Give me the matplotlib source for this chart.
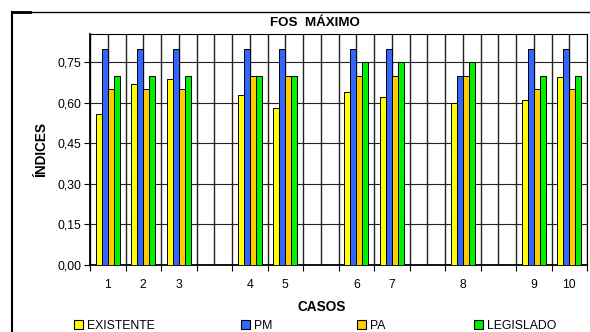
import numpy as np
import matplotlib
matplotlib.use("Agg")
import matplotlib.pyplot as plt
from matplotlib.lines import Line2D
from matplotlib.patches import Patch

plt.rcParams['font.family'] = ['Liberation Sans', 'DejaVu Sans']

# category slots (blank = empty slot in the original chart)
slots = ['1', '2', '3', '', '4', '5', '', '6', '7', '', '8', '', '9', '10']
nan = np.nan
existente = [0.56, 0.67, 0.69, nan, 0.63, 0.58, nan, 0.64, 0.62, nan, 0.60, nan, 0.61, 0.695]
pm        = [0.80, 0.80, 0.80, nan, 0.80, 0.80, nan, 0.80, 0.80, nan, 0.70, nan, 0.80, 0.80]
pa        = [0.65, 0.65, 0.65, nan, 0.70, 0.70, nan, 0.70, 0.70, nan, 0.70, nan, 0.65, 0.65]
legislado = [0.70, 0.70, 0.70, nan, 0.70, 0.70, nan, 0.75, 0.75, nan, 0.75, nan, 0.70, 0.70]

series_names = ['EXISTENTE', 'PM', 'PA', 'LEGISLADO']
colors = ['#FFFF00', '#3366FF', '#FFCC00', '#00F000']
yticks = [0.0, 0.15, 0.30, 0.45, 0.60, 0.75]

fig = plt.figure(figsize=(5.9, 3.32), dpi=100)
ax = fig.add_axes([90/590, 1 - 265/332, 497/590, 231/332])

x = np.arange(len(slots))
bw = 0.17
for i, (vals, c) in enumerate(zip([existente, pm, pa, legislado], colors)):
    ax.bar(x + (i - 1.5) * bw, vals, width=bw, color=c, edgecolor='black',
           linewidth=0.7, zorder=3)

ax.set_xlim(-0.5, len(slots) - 0.5)
ax.set_ylim(0, 0.855)

# vertical grid at slot boundaries and centres
grid_x = np.arange(2 * len(slots) + 1) / 2 - 0.5
ax.vlines(grid_x, 0, 0.855, colors='#222222', linewidth=1.0, zorder=1)

# boundaries as major ticks, centres as labelled minor ticks
ax.set_xticks(np.arange(len(slots) + 1) - 0.5)
ax.set_xticklabels([])
ax.set_xticks(x, minor=True)
ax.set_xticklabels(slots, minor=True, fontsize=8.8)
ax.tick_params(axis='x', which='major', length=4, width=0.8, direction='out')
ax.tick_params(axis='x', which='minor', length=0, pad=10)

ax.set_yticks(yticks)
ax.set_yticklabels([f"{v:.2f}".replace('.', ',') for v in yticks], fontsize=8.8)
ax.tick_params(axis='y', length=4, width=0.8, direction='out', pad=2)
ax.hlines(yticks[1:], -0.5, len(slots) - 0.5, colors='#222222', linewidth=0.8, zorder=1)

for s in ['top', 'right']:
    ax.spines[s].set_linewidth(0.8)
ax.spines['left'].set_linewidth(1.3)
ax.spines['bottom'].set_linewidth(1.3)

ax.set_ylabel('ÍNDICES', fontsize=9.8, fontweight='bold')
ax.yaxis.set_label_coords(-0.085, 0.5)
ax.set_xlabel('CASOS', fontsize=9.8, fontweight='bold')
ax.xaxis.set_label_coords((322 - 90) / 497, -0.15)
fig.text(315/590, 1 - 23/332, 'FOS  MÁXIMO', fontsize=9.6, fontweight='bold',
         ha='center', va='center')

# chart area border (left and top)
fig.add_artist(Line2D([12/590, 12/590], [0, 1 - 12/332], color='black',
                      linewidth=1.5, transform=fig.transFigure))
fig.add_artist(Line2D([12/590, 1], [1 - 12/332, 1 - 12/332], color='black',
                      linewidth=1.0, transform=fig.transFigure))
fig.add_artist(Line2D([12/590, 30/590], [1 - 12/332, 1 - 12/332], color='black',
                      linewidth=2.0, transform=fig.transFigure))

# legend entries placed individually, as in the original layout
legend_x = [74, 241, 357, 474]
for name, c, lx in zip(series_names, colors, legend_x):
    h = Patch(facecolor=c, edgecolor='black', linewidth=0.8)
    fig.legend([h], [name], loc='center left', frameon=False,
               bbox_to_anchor=(lx / 590, 1 - 326/332), fontsize=8.8,
               borderpad=0, borderaxespad=0,
               handlelength=0.75, handleheight=0.75, handletextpad=0.3)

fig.savefig('out.png', dpi=100)
